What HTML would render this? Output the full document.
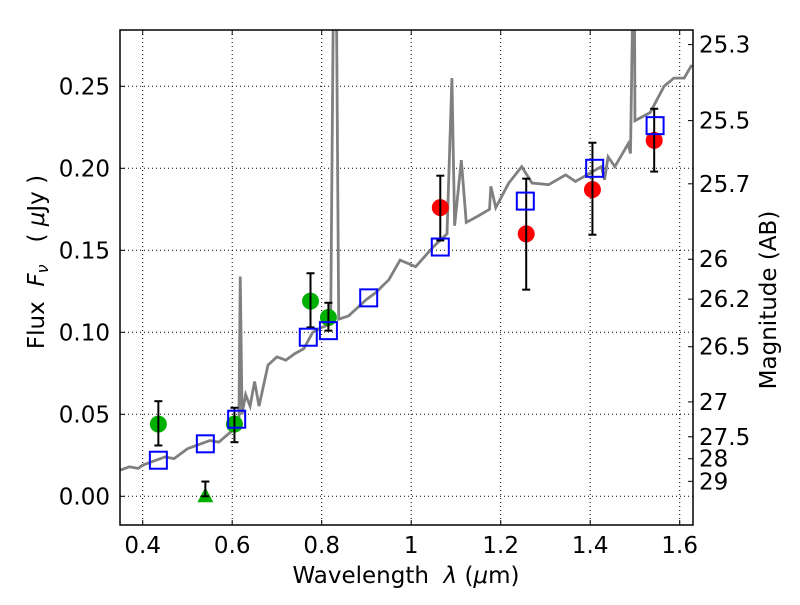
<!DOCTYPE html>
<html><head><meta charset="utf-8"><style>
body{margin:0;background:#fff}
svg{font-family:"DejaVu Sans","Liberation Sans",sans-serif}
text{white-space:pre}
</style></head><body>
<svg id="c" width="800" height="600"></svg>
<script>
const specLam=[0.35,0.37,0.39,0.40,0.42,0.45,0.47,0.50,0.52,0.55,0.57,0.60,0.615,0.618,0.622,0.63,0.64,0.65,0.66,0.68,0.70,0.72,0.74,0.76,0.78,0.80,0.82,0.826,0.833,0.838,0.86,0.88,0.90,0.92,0.95,0.975,1.01,1.049,1.080,1.091,1.097,1.112,1.123,1.15,1.175,1.178,1.189,1.218,1.247,1.27,1.307,1.345,1.367,1.425,1.432,1.44,1.455,1.485,1.49,1.495,1.499,1.5,1.534,1.565,1.587,1.61,1.627];
const specFlux=[0.016,0.018,0.017,0.019,0.021,0.024,0.023,0.029,0.031,0.034,0.033,0.040,0.045,0.134,0.050,0.062,0.055,0.070,0.055,0.080,0.085,0.083,0.087,0.090,0.100,0.103,0.105,0.30,0.30,0.108,0.110,0.115,0.120,0.124,0.132,0.144,0.140,0.152,0.160,0.255,0.165,0.205,0.167,0.171,0.175,0.189,0.176,0.191,0.201,0.191,0.190,0.196,0.192,0.201,0.193,0.207,0.201,0.215,0.209,0.30,0.30,0.229,0.234,0.250,0.255,0.255,0.263];
const greenLam=[0.435,0.605,0.775,0.815];
const greenFlux=[0.044,0.044,0.119,0.109];
const greenLo=[0.031,0.033,0.103,0.101];
const greenHi=[0.058,0.054,0.136,0.118];
const triLam=[0.54];const triFlux=[0.0];const triHi=[0.009];
const redLam=[1.065,1.257,1.405,1.543];
const redFlux=[0.176,0.160,0.187,0.217];
const redLo=[0.156,0.126,0.1595,0.198];
const redHi=[0.1955,0.1937,0.2156,0.2363];
const blueLam=[0.435,0.54,0.61,0.77,0.815,0.905,1.065,1.255,1.41,1.545];
const blueFlux=[0.022,0.032,0.047,0.097,0.101,0.121,0.152,0.180,0.200,0.226];
const xTicks=[0.4,0.6,0.8,1.0,1.2,1.4,1.6];
const xTickLabels=["0.4","0.6","0.8","1","1.2","1.4","1.6"];
const yTicks=[0,0.05,0.10,0.15,0.20,0.25];
const yTickLabels=["0.00","0.05","0.10","0.15","0.20","0.25"];
const magTicks=[25.3,25.5,25.7,26,26.2,26.5,27,27.5,28,29];

const L=120,R=693,T=30,B=525;
const X=v=>142.7+(v-0.4)*447.5;
const Y=v=>496.3-v*1640;
const NS="http://www.w3.org/2000/svg";
const svg=document.getElementById('c');
function el(tag,attrs,parent){const e=document.createElementNS(NS,tag);for(const k in attrs)e.setAttribute(k,attrs[k]);(parent||svg).appendChild(e);return e;}
const defs=el('defs',{});const cp=el('clipPath',{id:'cp'},defs);el('rect',{x:L,y:T,width:R-L,height:B-T},cp);
const g=el('g',{'clip-path':'url(#cp)'});


const FS=23;
xTicks.forEach((t,i)=>{
  const ln=el('line',{x1:X(t),x2:X(t),y1:T,y2:B,stroke:'#000','stroke-width':1,'stroke-dasharray':'1,3'},g);
  
  
  el('line',{x1:X(t),x2:X(t),y1:B,y2:B-5,stroke:'#000'});
  el('line',{x1:X(t),x2:X(t),y1:T,y2:T+5,stroke:'#000'});
  const tx=el('text',{x:X(t),y:B+28,'text-anchor':'middle','font-size':FS});tx.textContent=xTickLabels[i];
  
  
});
yTicks.forEach((t,i)=>{
  const ln=el('line',{x1:L,x2:R,y1:Y(t),y2:Y(t),stroke:'#000','stroke-width':1,'stroke-dasharray':'1,3'},g);
  
  
  el('line',{x1:L,x2:L+5,y1:Y(t),y2:Y(t),stroke:'#000'});
  const tx=el('text',{x:L-10,y:Y(t)+8,'text-anchor':'end','font-size':FS});tx.textContent=yTickLabels[i];
  
  
});
magTicks.forEach(m=>{
  const f=Math.pow(10,(23.9-m)/2.5);const y=Y(f);
  el('line',{x1:R,x2:R-5,y1:y,y2:y,stroke:'#000'});
  const tx=el('text',{x:R+6,y:y+8,'font-size':FS});tx.textContent=String(m);
  
  
});
const sp=el('polyline',{points:specLam.map((l,i)=>X(l)+','+Y(specFlux[i])).join(' '),fill:'none',stroke:'#808080','stroke-width':2.8},g);


function ebar(x,lo,hi,nm){
  const gg=el('g',{stroke:'#000','stroke-width':2},g);
  
  
  el('line',{x1:X(x),x2:X(x),y1:Y(lo),y2:Y(hi)},gg);
  el('line',{x1:X(x)-4,x2:X(x)+4,y1:Y(lo),y2:Y(lo)},gg);
  el('line',{x1:X(x)-4,x2:X(x)+4,y1:Y(hi),y2:Y(hi)},gg);
}
greenLam.forEach((l,i)=>{
  const c=el('circle',{cx:X(l),cy:Y(greenFlux[i]),r:8.5,fill:'#00b000'},g);
  
  
  ebar(l,greenLo[i],greenHi[i],'green-error-bar');
});
triLam.forEach((l,i)=>{
  const x=X(l),y=Y(triFlux[i]);
  const p=el('polygon',{points:`${x},${y-9} ${x-8},${y+6} ${x+8},${y+6}`,fill:'#00b000'},g);
  
  
  ebar(l,triFlux[i],triHi[i],'triangle-error-bar');
});
redLam.forEach((l,i)=>{
  const c=el('circle',{cx:X(l),cy:Y(redFlux[i]),r:8.5,fill:'#ff0000'},g);
  
  
  ebar(l,redLo[i],redHi[i],'red-error-bar');
});
blueLam.forEach((l,i)=>{
  const r=el('rect',{x:X(l)-8.5,y:Y(blueFlux[i])-8.5,width:17,height:17,fill:'none',stroke:'#0000ff','stroke-width':2},g);
  
  
});
const fr=el('rect',{x:L,y:T,width:R-L,height:B-T,fill:'none',stroke:'#000','stroke-width':1.5});


const xl=el('text',{x:406,y:583,'text-anchor':'middle','font-size':FS});
xl.innerHTML='Wavelength  <tspan font-style="italic">λ</tspan> (<tspan font-style="italic">μ</tspan>m)';


const yl=el('text',{x:0,y:0,'text-anchor':'middle','font-size':FS,transform:'translate(44,262) rotate(-90)'});
yl.innerHTML='Flux  <tspan font-style="italic">F<tspan font-size="16" dy="4">ν</tspan></tspan><tspan dy="-4">   ( </tspan><tspan font-style="italic">μ</tspan>Jy )';


const rl=el('text',{x:0,y:0,'text-anchor':'middle','font-size':FS,transform:'translate(776,300) rotate(-90)'});
rl.textContent='Magnitude (AB)';


</script>
</body></html>
